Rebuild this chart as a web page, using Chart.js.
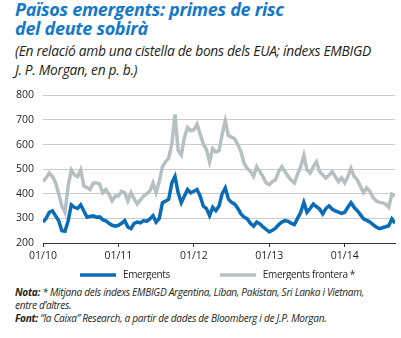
<!DOCTYPE html>
<html>
<head>
<meta charset="utf-8">
<script src="https://cdn.jsdelivr.net/npm/chart.js@4.4.1/dist/chart.umd.min.js"></script>
<style>
  html, body { margin: 0; padding: 0; background: #fff; }
  body { width: 401px; height: 338px; position: relative; overflow: hidden; font-family: "Open Sans", sans-serif; }
  .title { position: absolute; left: 15px; top: 0px; color: #1479c9; font-weight: 700; font-style: italic;
           font-size: 18px; line-height: 18.5px; letter-spacing: -0.3px; }
  .sub { position: absolute; left: 15px; top: 41px; color: #231f20; font-style: italic;
         font-size: 13.8px; line-height: 19px; letter-spacing: -0.3px; }
  .notes { position: absolute; left: 15px; top: 286px; color: #231f20; font-style: italic;
           font-size: 10.1px; line-height: 13px; letter-spacing: -0.3px; }
  .notes b { font-weight: 700; }
  #wrap { position: absolute; left: 0; top: 80px; width: 401px; height: 200px; }
</style>
</head>
<body>
<div class="title">Països emergents: primes de risc<br>del deute sobirà</div>
<div class="sub">(En relació amb una cistella de bons dels EUA; índexs EMBIGD<br>J. P. Morgan, en p. b.)</div>
<div id="wrap"><canvas id="chart"></canvas></div>
<div class="notes"><b>Nota:</b> * Mitjana dels índexs EMBIGD Argentina, Líban, Pakistan, Sri Lanka i Vietnam,<br>entre d’altres.<br><b>Font:</b> “la Caixa” Research, a partir de dades de Bloomberg i de J.P. Morgan.</div>
<script>
// Half-monthly observations starting January 2010 (spread in basis points)
const startYear = 2010;
const emergents = [
  285, 300, 325, 331, 310, 290, 250, 248, 290, 355, 345, 340, 355, 330, 305, 308,
  310, 305, 306, 295, 290, 280, 272, 268, 272, 280, 291, 265, 258, 280, 285, 282,
  291, 288, 298, 311, 285, 300, 364, 370, 378, 444, 470, 404, 364, 391, 417, 404,
  410, 417, 391, 350, 340, 311, 345, 331, 350, 400, 424, 378, 365, 358, 340, 318,
  305, 298, 280, 268, 285, 278, 265, 255, 245, 252, 260, 275, 285, 291, 288, 280,
  275, 300, 325, 365, 325, 340, 358, 348, 338, 318, 340, 351, 338, 330, 325, 320,
  325, 345, 364, 345, 331, 315, 298, 292, 285, 275, 265, 258, 262, 266, 270, 298,
  280
];
const frontera = [
  450, 465, 484, 470, 444, 400, 350, 325, 431, 497, 477, 470, 497, 431, 425, 417,
  444, 444, 440, 404, 417, 398, 371, 391, 391, 410, 404, 371, 404, 380, 358, 375,
  391, 400, 411, 444, 404, 450, 510, 530, 545, 603, 722, 577, 557, 629, 669, 656,
  660, 683, 643, 603, 580, 530, 583, 570, 575, 640, 696, 636, 630, 623, 600, 570,
  523, 503, 490, 470, 510, 490, 470, 444, 437, 450, 457, 490, 510, 490, 470, 455,
  444, 480, 510, 557, 497, 484, 510, 530, 490, 477, 464, 475, 490, 470, 450, 465,
  444, 470, 503, 470, 457, 430, 404, 424, 410, 385, 371, 365, 364, 358, 345, 398,
  391
];
const yTicks = [200, 300, 400, 500, 600, 700, 800];
const xTickMonths = [0, 12, 24, 36, 48];
const seriesNames = ['Emergents', 'Emergents frontera *'];
const seriesColors = ['#0a6cb6', '#b5c0c3'];

// position of each observation, in months since January 2010
const months = emergents.map((_, i) => i / 2);
const toPoints = vals => vals.map((v, i) => ({ x: months[i], y: v }));
const monthLabel = m => {
  const yy = startYear + Math.floor(m / 12);
  const mm = Math.round(m % 12) + 1;
  return String(mm).padStart(2, '0') + '/' + String(yy).slice(2);
};

const FONT = '"Open Sans", sans-serif';
const TEXT = '#231f20';

// Legend drawn as a single row of line samples under the axis
const lineLegend = {
  id: 'lineLegend',
  afterDraw(chart) {
    const { ctx, chartArea } = chart;
    const sample = 36, gap = 7, between = 50;
    ctx.save();
    ctx.font = '10px ' + FONT;
    if ('letterSpacing' in ctx) ctx.letterSpacing = '-0.35px';
    ctx.textBaseline = 'middle';
    let x = chartArea.left + 37;
    const y = chartArea.bottom + 32;
    chart.data.datasets.forEach(ds => {
      const w = ctx.measureText(ds.label).width;
      ctx.strokeStyle = ds.borderColor;
      ctx.lineWidth = 3.5;
      ctx.beginPath();
      ctx.moveTo(x, y);
      ctx.lineTo(x + sample, y);
      ctx.stroke();
      ctx.fillStyle = TEXT;
      ctx.fillText(ds.label, x + sample + gap, y);
      x += sample + gap + w + between;
    });
    ctx.restore();
  }
};

new Chart(document.getElementById('chart'), {
  type: 'line',
  data: {
    datasets: [
      { label: seriesNames[0], data: toPoints(emergents), borderColor: seriesColors[0],
        borderWidth: 3.5, pointRadius: 0, tension: 0 },
      { label: seriesNames[1], data: toPoints(frontera), borderColor: seriesColors[1],
        borderWidth: 3.5, pointRadius: 0, tension: 0 }
    ]
  },
  plugins: [lineLegend],
  options: {
    responsive: true,
    maintainAspectRatio: false,
    animation: false,
    events: [],
    layout: { padding: { left: 0, right: 6, top: 12, bottom: 15 } },
    plugins: {
      tooltip: { enabled: false },
      legend: { display: false }
    },
    scales: {
      x: {
        type: 'linear',
        min: 0,
        max: 56,
        afterBuildTicks: s => { s.ticks = xTickMonths.map(v => ({ value: v })); },
        afterFit: s => { s.height = 22; },
        ticks: { callback: v => monthLabel(v), font: { family: FONT, size: 10.5 }, color: TEXT, padding: 3, maxRotation: 0 },
        grid: { display: true, drawOnChartArea: false, drawTicks: true, tickLength: 4, color: '#333' },
        border: { display: true, color: '#333', width: 1 }
      },
      y: {
        min: 200,
        max: 800,
        afterBuildTicks: s => { s.ticks = yTicks.map(v => ({ value: v })); },
        afterFit: s => { s.width = 43; },
        ticks: { font: { family: FONT, size: 10.5 }, color: TEXT, padding: 9 },
        grid: { color: '#cccccc', drawTicks: false, lineWidth: 1 },
        border: { display: false }
      }
    }
  }
});
</script>
</body>
</html>
